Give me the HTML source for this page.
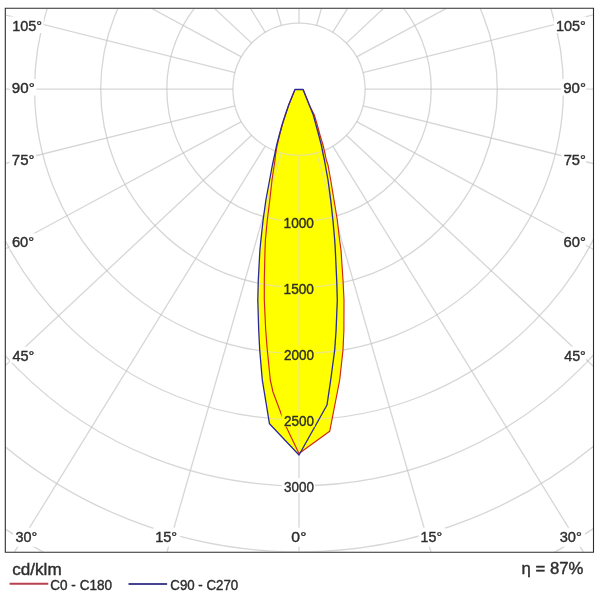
<!DOCTYPE html>
<html><head><meta charset="utf-8"><style>
html,body{margin:0;padding:0;background:#fff;}
svg{display:block;filter:blur(0.35px);}
text{font-family:"Liberation Sans",sans-serif;}
</style></head><body>
<svg width="600" height="600" viewBox="0 0 600 600">
<defs>
<clipPath id="fr"><rect x="5.9" y="8.9" width="587.1" height="542.8"/></clipPath>
<clipPath id="yl"><polygon points="299.00,89.50 295.00,89.50 292.70,95.00 288.70,105.00 285.30,115.00 282.00,125.00 279.30,135.00 276.70,145.00 274.60,155.00 273.50,160.00 272.40,165.00 269.60,180.00 265.90,200.00 263.10,220.00 260.90,240.00 259.90,250.00 258.30,280.00 257.80,300.00 258.70,330.00 259.70,350.00 262.30,380.00 269.50,423.80 299.00,455.00 299.00,455.00 327.00,405.00 330.70,380.00 334.70,350.00 336.10,330.00 337.30,300.00 336.70,280.00 335.30,250.00 334.70,240.00 332.90,220.00 330.70,200.00 328.00,180.00 325.30,165.00 324.40,160.00 323.30,155.00 321.30,145.00 318.70,135.00 316.00,125.00 313.30,115.00 309.30,105.00 305.30,95.00 303.10,89.50"/><polygon points="299.00,89.50 295.00,89.50 292.70,95.00 288.70,105.00 285.30,115.00 282.20,125.00 279.60,135.00 277.20,145.00 275.50,155.00 275.00,160.00 272.00,180.00 269.80,200.00 267.30,220.00 265.40,240.00 265.00,250.00 264.30,280.00 264.30,300.00 265.70,330.00 267.30,350.00 270.30,380.00 273.00,392.00 281.70,415.30 286.50,427.50 299.00,453.50 299.00,453.50 329.70,431.30 339.70,380.00 343.00,350.00 343.90,330.00 344.00,300.00 343.00,280.00 341.00,250.00 339.60,240.00 337.30,220.00 334.00,200.00 330.70,180.00 328.00,165.00 326.30,160.00 325.30,155.00 323.00,145.00 320.00,135.00 317.30,125.00 314.30,115.00 309.30,105.00 305.30,95.00 303.10,89.50"/></clipPath>
<mask id="lm" maskUnits="userSpaceOnUse" x="0" y="0" width="600" height="600">
<rect x="0" y="0" width="600" height="600" fill="white"/><rect x="10.3" y="16.5" width="33.4" height="16.5" fill="black"/><rect x="9.6" y="79.0" width="26.7" height="16.5" fill="black"/><rect x="9.6" y="151.2" width="26.5" height="16.5" fill="black"/><rect x="9.7" y="233.4" width="26.1" height="16.5" fill="black"/><rect x="9.8" y="346.7" width="26.2" height="16.5" fill="black"/><rect x="554.0" y="16.5" width="32.0" height="16.5" fill="black"/><rect x="560.9" y="79.0" width="25.1" height="16.5" fill="black"/><rect x="561.4" y="151.2" width="24.6" height="16.5" fill="black"/><rect x="561.3" y="233.4" width="24.7" height="16.5" fill="black"/><rect x="561.5" y="346.7" width="24.5" height="16.5" fill="black"/><rect x="13.0" y="527.7" width="27.3" height="19.0" fill="black"/><rect x="153.3" y="527.7" width="27.0" height="19.0" fill="black"/><rect x="289.0" y="527.7" width="20.5" height="19.0" fill="black"/><rect x="418.7" y="527.7" width="26.6" height="19.0" fill="black"/><rect x="557.3" y="527.7" width="27.7" height="19.0" fill="black"/><rect x="281.6" y="213.5" width="33.3" height="15.0" fill="black"/><rect x="281.6" y="279.6" width="33.3" height="15.0" fill="black"/><rect x="281.6" y="345.7" width="33.3" height="15.0" fill="black"/><rect x="281.6" y="411.8" width="33.3" height="15.0" fill="black"/><rect x="281.6" y="477.9" width="33.3" height="15.0" fill="black"/>
</mask>
</defs>
<rect width="600" height="600" fill="#fff"/>
<g clip-path="url(#fr)">
<g mask="url(#lm)"><g fill="none" stroke="#c4c4c4" stroke-opacity="0.7" stroke-width="1.3"><circle cx="299.0" cy="89.2" r="66.10"/><circle cx="299.0" cy="89.2" r="132.20"/><circle cx="299.0" cy="89.2" r="198.30"/><circle cx="299.0" cy="89.2" r="264.40"/><circle cx="299.0" cy="89.2" r="330.50"/><circle cx="299.0" cy="89.2" r="396.60"/><circle cx="299.0" cy="89.2" r="462.70"/><circle cx="299.0" cy="89.2" r="528.80"/><line x1="299.00" y1="155.30" x2="299.00" y2="1055.30"/><line x1="316.55" y1="152.93" x2="564.59" y2="1018.07"/><line x1="332.73" y1="146.05" x2="805.74" y2="911.72"/><line x1="346.37" y1="135.30" x2="1003.91" y2="749.83"/><line x1="356.62" y1="121.59" x2="1148.68" y2="548.96"/><line x1="362.96" y1="105.89" x2="1236.00" y2="324.52"/><line x1="365.10" y1="89.20" x2="1265.10" y2="89.20"/><line x1="362.96" y1="72.51" x2="1236.00" y2="-146.12"/><line x1="356.62" y1="56.81" x2="1148.68" y2="-370.56"/><line x1="346.37" y1="43.10" x2="1003.91" y2="-571.43"/><line x1="332.73" y1="32.35" x2="805.74" y2="-733.32"/><line x1="316.55" y1="25.47" x2="564.59" y2="-839.67"/><line x1="299.00" y1="23.10" x2="299.00" y2="-876.90"/><line x1="281.45" y1="25.47" x2="33.41" y2="-839.67"/><line x1="265.27" y1="32.35" x2="-207.74" y2="-733.32"/><line x1="251.63" y1="43.10" x2="-405.91" y2="-571.43"/><line x1="241.38" y1="56.81" x2="-550.68" y2="-370.56"/><line x1="235.04" y1="72.51" x2="-638.00" y2="-146.12"/><line x1="232.90" y1="89.20" x2="-667.10" y2="89.20"/><line x1="235.04" y1="105.89" x2="-638.00" y2="324.52"/><line x1="241.38" y1="121.59" x2="-550.68" y2="548.96"/><line x1="251.63" y1="135.30" x2="-405.91" y2="749.83"/><line x1="265.27" y1="146.05" x2="-207.74" y2="911.72"/><line x1="281.45" y1="152.93" x2="33.41" y2="1018.07"/></g></g>
<polygon points="299.00,89.50 295.00,89.50 292.70,95.00 288.70,105.00 285.30,115.00 282.00,125.00 279.30,135.00 276.70,145.00 274.60,155.00 273.50,160.00 272.40,165.00 269.60,180.00 265.90,200.00 263.10,220.00 260.90,240.00 259.90,250.00 258.30,280.00 257.80,300.00 258.70,330.00 259.70,350.00 262.30,380.00 269.50,423.80 299.00,455.00 299.00,455.00 327.00,405.00 330.70,380.00 334.70,350.00 336.10,330.00 337.30,300.00 336.70,280.00 335.30,250.00 334.70,240.00 332.90,220.00 330.70,200.00 328.00,180.00 325.30,165.00 324.40,160.00 323.30,155.00 321.30,145.00 318.70,135.00 316.00,125.00 313.30,115.00 309.30,105.00 305.30,95.00 303.10,89.50" fill="#ffff00"/>
<polygon points="299.00,89.50 295.00,89.50 292.70,95.00 288.70,105.00 285.30,115.00 282.20,125.00 279.60,135.00 277.20,145.00 275.50,155.00 275.00,160.00 272.00,180.00 269.80,200.00 267.30,220.00 265.40,240.00 265.00,250.00 264.30,280.00 264.30,300.00 265.70,330.00 267.30,350.00 270.30,380.00 273.00,392.00 281.70,415.30 286.50,427.50 299.00,453.50 299.00,453.50 329.70,431.30 339.70,380.00 343.00,350.00 343.90,330.00 344.00,300.00 343.00,280.00 341.00,250.00 339.60,240.00 337.30,220.00 334.00,200.00 330.70,180.00 328.00,165.00 326.30,160.00 325.30,155.00 323.00,145.00 320.00,135.00 317.30,125.00 314.30,115.00 309.30,105.00 305.30,95.00 303.10,89.50" fill="#ffff00"/>
<g clip-path="url(#yl)"><g mask="url(#lm)"><g fill="none" stroke="rgb(236,232,128)" stroke-width="1.3"><circle cx="299.0" cy="89.2" r="66.10"/><circle cx="299.0" cy="89.2" r="132.20"/><circle cx="299.0" cy="89.2" r="198.30"/><circle cx="299.0" cy="89.2" r="264.40"/><circle cx="299.0" cy="89.2" r="330.50"/><circle cx="299.0" cy="89.2" r="396.60"/><circle cx="299.0" cy="89.2" r="462.70"/><circle cx="299.0" cy="89.2" r="528.80"/><line x1="299.00" y1="155.30" x2="299.00" y2="1055.30"/><line x1="316.55" y1="152.93" x2="564.59" y2="1018.07"/><line x1="332.73" y1="146.05" x2="805.74" y2="911.72"/><line x1="346.37" y1="135.30" x2="1003.91" y2="749.83"/><line x1="356.62" y1="121.59" x2="1148.68" y2="548.96"/><line x1="362.96" y1="105.89" x2="1236.00" y2="324.52"/><line x1="365.10" y1="89.20" x2="1265.10" y2="89.20"/><line x1="362.96" y1="72.51" x2="1236.00" y2="-146.12"/><line x1="356.62" y1="56.81" x2="1148.68" y2="-370.56"/><line x1="346.37" y1="43.10" x2="1003.91" y2="-571.43"/><line x1="332.73" y1="32.35" x2="805.74" y2="-733.32"/><line x1="316.55" y1="25.47" x2="564.59" y2="-839.67"/><line x1="299.00" y1="23.10" x2="299.00" y2="-876.90"/><line x1="281.45" y1="25.47" x2="33.41" y2="-839.67"/><line x1="265.27" y1="32.35" x2="-207.74" y2="-733.32"/><line x1="251.63" y1="43.10" x2="-405.91" y2="-571.43"/><line x1="241.38" y1="56.81" x2="-550.68" y2="-370.56"/><line x1="235.04" y1="72.51" x2="-638.00" y2="-146.12"/><line x1="232.90" y1="89.20" x2="-667.10" y2="89.20"/><line x1="235.04" y1="105.89" x2="-638.00" y2="324.52"/><line x1="241.38" y1="121.59" x2="-550.68" y2="548.96"/><line x1="251.63" y1="135.30" x2="-405.91" y2="749.83"/><line x1="265.27" y1="146.05" x2="-207.74" y2="911.72"/><line x1="281.45" y1="152.93" x2="33.41" y2="1018.07"/></g></g></g>
<g mask="url(#lm)">
<polygon points="299.00,89.50 295.00,89.50 292.70,95.00 288.70,105.00 285.30,115.00 282.20,125.00 279.60,135.00 277.20,145.00 275.50,155.00 275.00,160.00 272.00,180.00 269.80,200.00 267.30,220.00 265.40,240.00 265.00,250.00 264.30,280.00 264.30,300.00 265.70,330.00 267.30,350.00 270.30,380.00 273.00,392.00 281.70,415.30 286.50,427.50 299.00,453.50 299.00,453.50 329.70,431.30 339.70,380.00 343.00,350.00 343.90,330.00 344.00,300.00 343.00,280.00 341.00,250.00 339.60,240.00 337.30,220.00 334.00,200.00 330.70,180.00 328.00,165.00 326.30,160.00 325.30,155.00 323.00,145.00 320.00,135.00 317.30,125.00 314.30,115.00 309.30,105.00 305.30,95.00 303.10,89.50" fill="none" stroke="#d02418" stroke-width="1.15" stroke-linejoin="round"/>
<polygon points="299.00,89.50 295.00,89.50 292.70,95.00 288.70,105.00 285.30,115.00 282.00,125.00 279.30,135.00 276.70,145.00 274.60,155.00 273.50,160.00 272.40,165.00 269.60,180.00 265.90,200.00 263.10,220.00 260.90,240.00 259.90,250.00 258.30,280.00 257.80,300.00 258.70,330.00 259.70,350.00 262.30,380.00 269.50,423.80 299.00,455.00 299.00,455.00 327.00,405.00 330.70,380.00 334.70,350.00 336.10,330.00 337.30,300.00 336.70,280.00 335.30,250.00 334.70,240.00 332.90,220.00 330.70,200.00 328.00,180.00 325.30,165.00 324.40,160.00 323.30,155.00 321.30,145.00 318.70,135.00 316.00,125.00 313.30,115.00 309.30,105.00 305.30,95.00 303.10,89.50" fill="none" stroke="#2a2a96" stroke-width="1.3" stroke-linejoin="round"/>
</g>
</g>
<g stroke="#2c2c2c" stroke-width="1.1" fill="none"><path d="M5.3 8.3H593.5M5.3 552.2H593.5M5.3 7.75V552.75M593.5 7.75V552.75"/></g>
<g fill="#2e2e2e" stroke="#2e2e2e" stroke-width="0.4" opacity="0.999"><text x="12.20" y="30.50" font-size="14.30" textLength="29.87" lengthAdjust="spacingAndGlyphs">105°</text><text x="11.89" y="93.00" font-size="14.30" textLength="22.81" lengthAdjust="spacingAndGlyphs">90°</text><text x="11.83" y="165.20" font-size="14.30" textLength="22.67" lengthAdjust="spacingAndGlyphs">75°</text><text x="11.95" y="247.40" font-size="14.30" textLength="22.23" lengthAdjust="spacingAndGlyphs">60°</text><text x="12.47" y="360.70" font-size="14.30" textLength="21.90" lengthAdjust="spacingAndGlyphs">45°</text><text x="555.90" y="30.50" font-size="14.30" textLength="29.97" lengthAdjust="spacingAndGlyphs">105°</text><text x="563.20" y="93.00" font-size="14.30" textLength="22.71" lengthAdjust="spacingAndGlyphs">90°</text><text x="563.65" y="165.20" font-size="14.30" textLength="22.24" lengthAdjust="spacingAndGlyphs">75°</text><text x="563.55" y="247.40" font-size="14.30" textLength="22.34" lengthAdjust="spacingAndGlyphs">60°</text><text x="564.17" y="360.70" font-size="14.30" textLength="21.69" lengthAdjust="spacingAndGlyphs">45°</text><text x="15.45" y="541.70" font-size="14.30" textLength="21.71" lengthAdjust="spacingAndGlyphs">30°</text><text x="155.19" y="541.70" font-size="14.30" textLength="21.98" lengthAdjust="spacingAndGlyphs">15°</text><text x="291.38" y="541.70" font-size="14.30" textLength="15.06" lengthAdjust="spacingAndGlyphs">0°</text><text x="420.61" y="541.70" font-size="14.30" textLength="21.54" lengthAdjust="spacingAndGlyphs">15°</text><text x="559.74" y="541.70" font-size="14.30" textLength="22.14" lengthAdjust="spacingAndGlyphs">30°</text><text x="283.56" y="227.50" font-size="14.30" textLength="30.37" lengthAdjust="spacingAndGlyphs">1000</text><text x="283.56" y="293.60" font-size="14.30" textLength="30.37" lengthAdjust="spacingAndGlyphs">1500</text><text x="283.92" y="359.70" font-size="14.30" textLength="30.01" lengthAdjust="spacingAndGlyphs">2000</text><text x="283.92" y="425.80" font-size="14.30" textLength="30.01" lengthAdjust="spacingAndGlyphs">2500</text><text x="284.09" y="491.90" font-size="14.30" textLength="29.83" lengthAdjust="spacingAndGlyphs">3000</text></g>
<line x1="9.6" y1="583.8" x2="48.3" y2="583.8" stroke="#b8404f" stroke-width="2"/>
<line x1="128.5" y1="584" x2="167.1" y2="584" stroke="#444490" stroke-width="2"/>
<g fill="#2e2e2e" stroke="#2e2e2e" stroke-width="0.4" opacity="0.999"><text x="12.27" y="574.50" font-size="16.50" textLength="49.35" lengthAdjust="spacingAndGlyphs">cd/klm</text><text x="50.31" y="590.00" font-size="13.75" textLength="61.72" lengthAdjust="spacingAndGlyphs">C0 - C180</text><text x="170.33" y="590.20" font-size="13.75" textLength="67.89" lengthAdjust="spacingAndGlyphs">C90 - C270</text><text x="521.64" y="574.20" font-size="16.00" textLength="61.76" lengthAdjust="spacingAndGlyphs">η = 87%</text></g>
</svg>
</body></html>
